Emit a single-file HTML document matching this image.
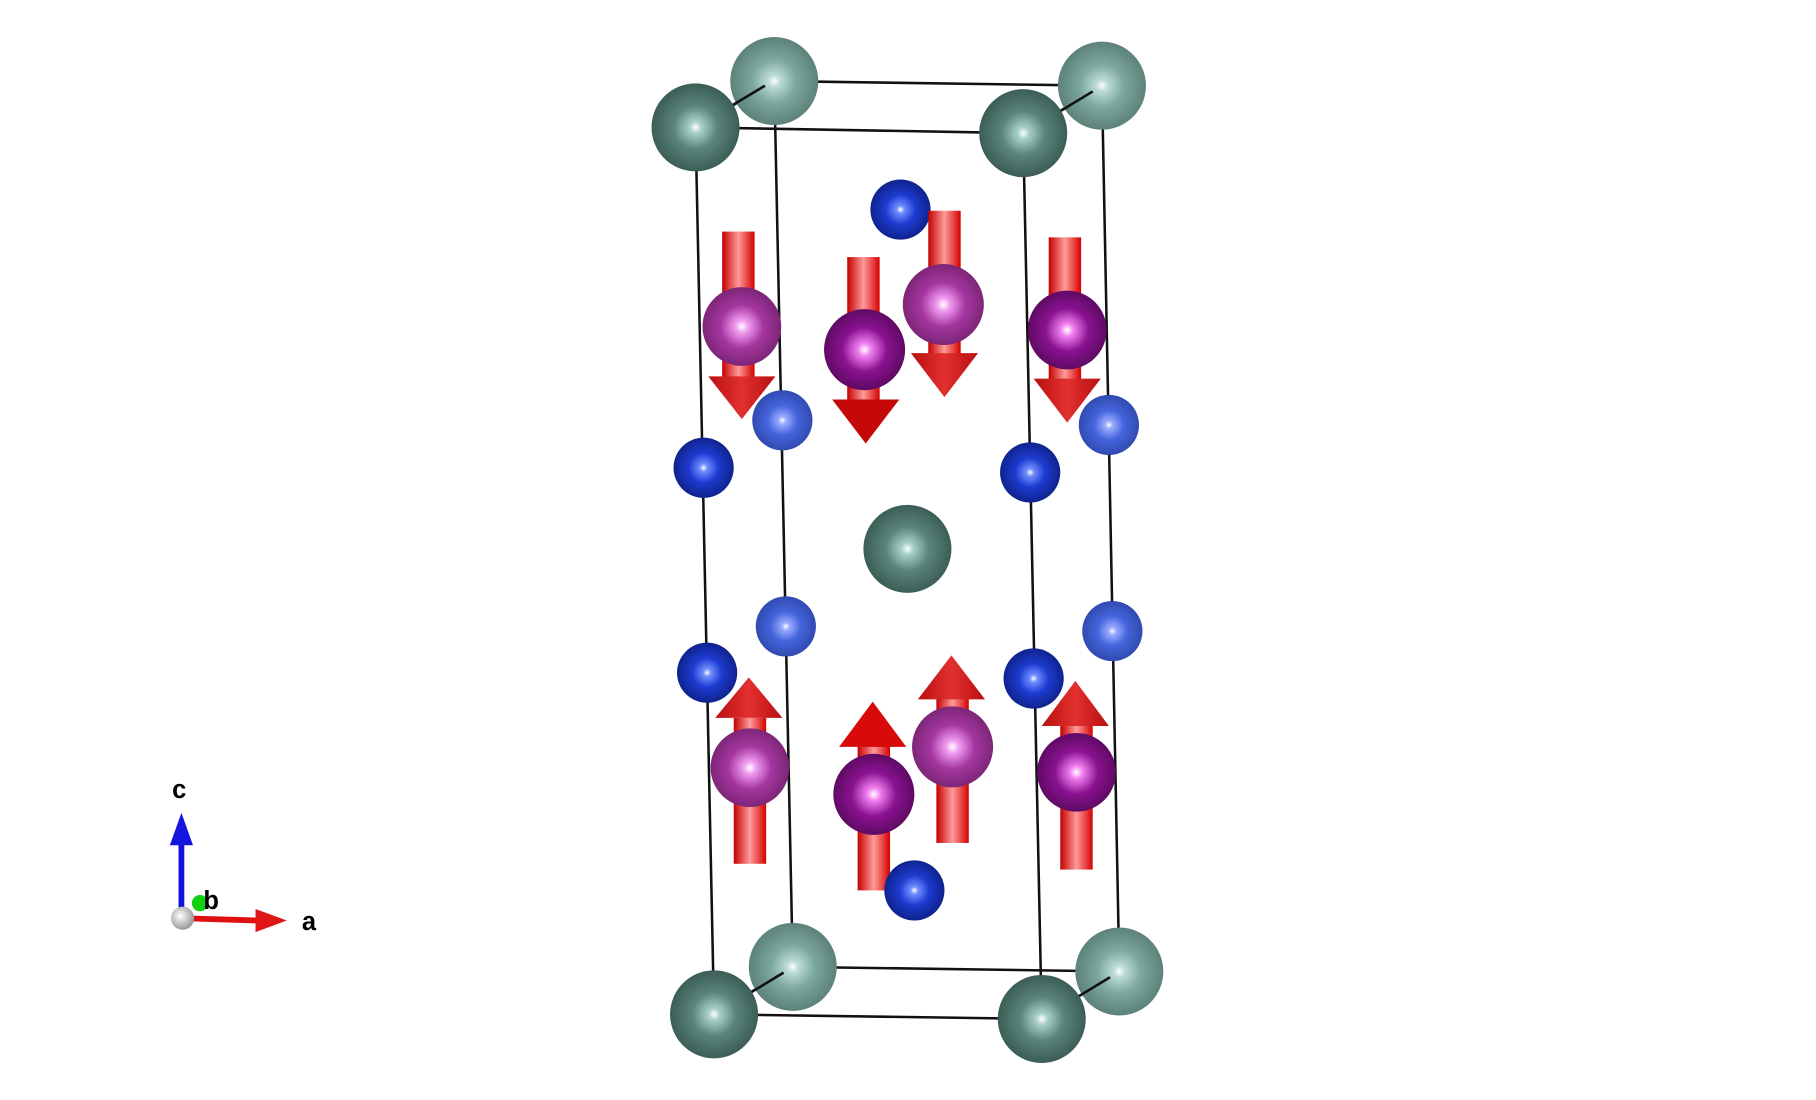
<!DOCTYPE html>
<html><head><meta charset="utf-8"><style>
html,body{margin:0;padding:0;background:#fff;}
svg{display:block;}
</style></head><body>
<svg width="1816" height="1100" viewBox="0 0 1567 950" xmlns="http://www.w3.org/2000/svg">
<defs>
<radialGradient id="tD" cx="0.5" cy="0.5" r="0.55"><stop offset="0" stop-color="#ffffff"/><stop offset="0.12" stop-color="#a8d0c7"/><stop offset="0.45" stop-color="#5a857b"/><stop offset="1" stop-color="#35554e"/></radialGradient>
<radialGradient id="tL" cx="0.5" cy="0.5" r="0.55"><stop offset="0" stop-color="#ffffff"/><stop offset="0.12" stop-color="#bcdcd5"/><stop offset="0.45" stop-color="#7ca89f"/><stop offset="1" stop-color="#567a72"/></radialGradient>
<radialGradient id="bD" cx="0.5" cy="0.5" r="0.55"><stop offset="0" stop-color="#ffffff"/><stop offset="0.12" stop-color="#6f8cff"/><stop offset="0.45" stop-color="#1d3bd0"/><stop offset="1" stop-color="#0c1e80"/></radialGradient>
<radialGradient id="bL" cx="0.5" cy="0.5" r="0.55"><stop offset="0" stop-color="#ffffff"/><stop offset="0.12" stop-color="#98aaff"/><stop offset="0.45" stop-color="#4565dc"/><stop offset="1" stop-color="#2c45a8"/></radialGradient>
<radialGradient id="mD" cx="0.5" cy="0.5" r="0.55"><stop offset="0" stop-color="#ffffff"/><stop offset="0.15" stop-color="#f07ff0"/><stop offset="0.5" stop-color="#8a1290"/><stop offset="1" stop-color="#55085a"/></radialGradient>
<radialGradient id="mL" cx="0.5" cy="0.5" r="0.55"><stop offset="0" stop-color="#ffffff"/><stop offset="0.15" stop-color="#f09af0"/><stop offset="0.5" stop-color="#a4369f"/><stop offset="1" stop-color="#74226f"/></radialGradient>
<linearGradient id="sh" x1="0" x2="1" y1="0" y2="0"><stop offset="0" stop-color="#c40000"/><stop offset="0.5" stop-color="#ff9a9a"/><stop offset="1" stop-color="#d40000"/></linearGradient>
<linearGradient id="cn" x1="0" x2="1"><stop offset="0" stop-color="#b81010"/><stop offset="0.5" stop-color="#e23030"/><stop offset="1" stop-color="#b81010"/></linearGradient>
<radialGradient id="gw" cx="0.4" cy="0.4" r="0.6"><stop offset="0" stop-color="#fff"/><stop offset="1" stop-color="#999"/></radialGradient>
</defs>
<g stroke="#111" stroke-width="2.2" fill="none">
<polygon points="668,70 951,74 966,839 684,835"/>
<polygon points="600,110 883,115 899,880 616,876"/>
<line x1="600" y1="110" x2="668" y2="70"/><line x1="883" y1="115" x2="951" y2="74"/>
<line x1="616" y1="876" x2="684" y2="835"/><line x1="899" y1="880" x2="966" y2="839"/>
</g>
<circle cx="668" cy="70" r="38" fill="url(#tL)"/><circle cx="951" cy="74" r="38" fill="url(#tL)"/>
<circle cx="684" cy="835" r="38" fill="url(#tL)"/><circle cx="966" cy="839" r="38" fill="url(#tL)"/>
<g stroke="#111" stroke-width="2.2"><line x1="630" y1="92" x2="660" y2="74"/><line x1="915" y1="96" x2="943" y2="79"/><line x1="648" y1="857" x2="676" y2="840"/><line x1="930" y1="861" x2="958" y2="844"/></g>
<circle cx="600" cy="110" r="38" fill="url(#tD)"/><circle cx="883" cy="115" r="38" fill="url(#tD)"/>
<circle cx="616" cy="876" r="38" fill="url(#tD)"/><circle cx="899" cy="880" r="38" fill="url(#tD)"/>
<circle cx="783" cy="474" r="38" fill="url(#tD)"/>
<circle cx="678" cy="541" r="26" fill="url(#bL)"/><circle cx="960" cy="545" r="26" fill="url(#bL)"/>
<circle cx="777" cy="181" r="26" fill="url(#bD)"/>
<rect x="623" y="200" width="28" height="130" fill="url(#sh)"/><polygon points="611,325 669,325 640,362" fill="url(#cn)"/>
<rect x="801" y="182" width="28" height="125" fill="url(#sh)"/><polygon points="786,305 844,305 815,343" fill="url(#cn)"/>
<rect x="905" y="205" width="28" height="125" fill="url(#sh)"/><polygon points="892,327 950,327 921,365" fill="url(#cn)"/>
<circle cx="640" cy="282" r="34" fill="url(#mL)"/>
<circle cx="814" cy="263" r="35" fill="url(#mL)"/>
<circle cx="921" cy="285" r="34" fill="url(#mD)"/>
<rect x="731" y="222" width="28" height="125" fill="url(#sh)"/><polygon points="718,345 776,345 747,383" fill="#c40808"/>
<circle cx="746" cy="302" r="35" fill="url(#mD)"/>
<circle cx="675" cy="363" r="26" fill="url(#bL)"/><circle cx="957" cy="367" r="26" fill="url(#bL)"/>
<circle cx="607" cy="404" r="26" fill="url(#bD)"/><circle cx="889" cy="408" r="26" fill="url(#bD)"/>
<circle cx="610" cy="581" r="26" fill="url(#bD)"/><circle cx="892" cy="586" r="26" fill="url(#bD)"/>
<rect x="808" y="600" width="28" height="128" fill="url(#sh)"/><polygon points="792,604 850,604 821,566" fill="url(#cn)"/>
<circle cx="822" cy="645" r="35" fill="url(#mL)"/>
<rect x="633" y="620" width="28" height="126" fill="url(#sh)"/><polygon points="617,620 675,620 646,585" fill="url(#cn)"/>
<circle cx="647" cy="663" r="34" fill="url(#mL)"/>
<rect x="915" y="625" width="28" height="126" fill="url(#sh)"/><polygon points="899,627 957,627 928,588" fill="url(#cn)"/>
<circle cx="929" cy="667" r="34" fill="url(#mD)"/>
<rect x="740" y="643" width="28" height="126" fill="url(#sh)"/><polygon points="724,645 782,645 753,606" fill="#d80a0a"/>
<circle cx="754" cy="686" r="35" fill="url(#mD)"/>
<circle cx="789" cy="769" r="26" fill="url(#bD)"/>
<line x1="156" y1="792" x2="156" y2="728" stroke="#1010e0" stroke-width="5"/>
<polygon points="146,730 166,730 156,702" fill="#1515e0"/>
<line x1="158" y1="793" x2="222" y2="795" stroke="#e01010" stroke-width="5"/>
<polygon points="220,785 247,795 220,805" fill="#e01515"/>
<circle cx="172" cy="780" r="7" fill="#10d010"/>
<circle cx="157" cy="793" r="10" fill="url(#gw)"/>
<g font-family="Liberation Sans, sans-serif" font-weight="bold" font-size="22" fill="#000">
<text x="148" y="689">c</text><text x="175" y="785">b</text><text x="260" y="803">a</text>
</g>
</svg>
</body></html>
